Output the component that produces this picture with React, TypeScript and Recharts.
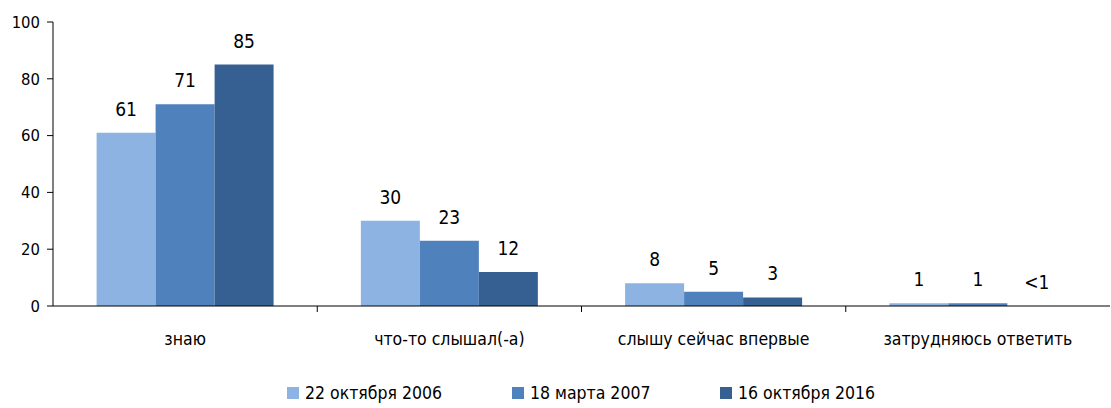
import React from "react";
import { BarChart, Bar, XAxis, YAxis, Legend, LabelList } from "recharts";

const categories = ["знаю", "что-то слышал(-а)", "слышу сейчас впервые", "затрудняюсь ответить"];
const oct2006 = [61, 30, 8, 1];
const mar2007 = [71, 23, 5, 1];
const oct2016 = [85, 12, 3, 0];
const yTicks = [0, 20, 40, 60, 80, 100];

const seriesInfo = [
    { key: "oct2006", name: "22 октября 2006", color: "#8DB3E2", left: 287 },
    { key: "mar2007", name: "18 марта 2007", color: "#4F81BD", left: 512 },
    { key: "oct2016", name: "16 октября 2016", color: "#366092", left: 720 },
];

const data = categories.map((name, i) => ({
    name,
    oct2006: oct2006[i],
    mar2007: mar2007[i],
    oct2016: oct2016[i],
}));

const FONT = "'DejaVu Sans Condensed', 'Liberation Sans Narrow', sans-serif";
const HALF_BAND = 1057 / 4 / 2;

const CategoryTick = (props: any) => {
    const { x, y, payload, index } = props;
    return (
        <g>
            {index < categories.length - 1 && (
                <line x1={x + HALF_BAND} x2={x + HALF_BAND} y1={y - 8} y2={y - 2} stroke="#000" />
            )}
            <text x={x} y={y + 31} textAnchor="middle" fontSize={17.5} fill="#000" fontFamily={FONT}>
                {payload.value}
            </text>
        </g>
    );
};

const ValueLabel = (props: any) => {
    const { x, y, width, value } = props;
    const text = value === 0 ? "<1" : value;
    return (
        <text x={x + width / 2} y={y - 17} textAnchor="middle" fontSize={19} fill="#000" fontFamily={FONT}>
            {text}
        </text>
    );
};

const LegendContent = () => (
    <div style={{ position: "relative", height: 24, fontFamily: FONT, fontSize: 17.5, color: "#000" }}>
        {seriesInfo.map((s) => (
            <div key={s.key} style={{ position: "absolute", left: s.left, top: 0, display: "flex", alignItems: "center", whiteSpace: "nowrap" }}>
                <span style={{ display: "inline-block", width: 12, height: 12, background: s.color, marginRight: 6 }} />
                <span>{s.name}</span>
            </div>
        ))}
    </div>
);

// keeps zero-value bars in the label list (0.01px, invisible)
const tinyForZero = (v: any) => (v === 0 ? 0.01 : 0);

const App = () => {
    return (
        <div style={{ position: "absolute", left: 0, top: 0, width: 1111, height: 408, background: "#fff" }}>
            <BarChart
                width={1111}
                height={408}
                data={data}
                margin={{ top: 22, right: 1, left: 0, bottom: 0 }}
                barCategoryGap="16.5%"
                barGap={0}
            >
                <XAxis
                    dataKey="name"
                    tick={<CategoryTick />}
                    tickLine={false}
                    axisLine={{ stroke: "#000" }}
                    height={70}
                    interval={0}
                />
                <YAxis
                    domain={[0, 100]}
                    ticks={yTicks}
                    width={53}
                    tickSize={6}
                    tickMargin={7}
                    axisLine={{ stroke: "#000" }}
                    tickLine={{ stroke: "#000" }}
                    tick={{ fontSize: 16.5, fill: "#000", fontFamily: FONT }}
                />
                <Legend
                    verticalAlign="bottom"
                    height={32}
                    content={<LegendContent />}
                    wrapperStyle={{ left: 0, width: 1111, top: 383 }}
                />
                {seriesInfo.map((s) => (
                    <Bar key={s.key} dataKey={s.key} name={s.name} fill={s.color} minPointSize={tinyForZero} isAnimationActive={false}>
                        <LabelList dataKey={s.key} content={<ValueLabel />} />
                    </Bar>
                ))}
            </BarChart>
        </div>
    );
};

export default App;
